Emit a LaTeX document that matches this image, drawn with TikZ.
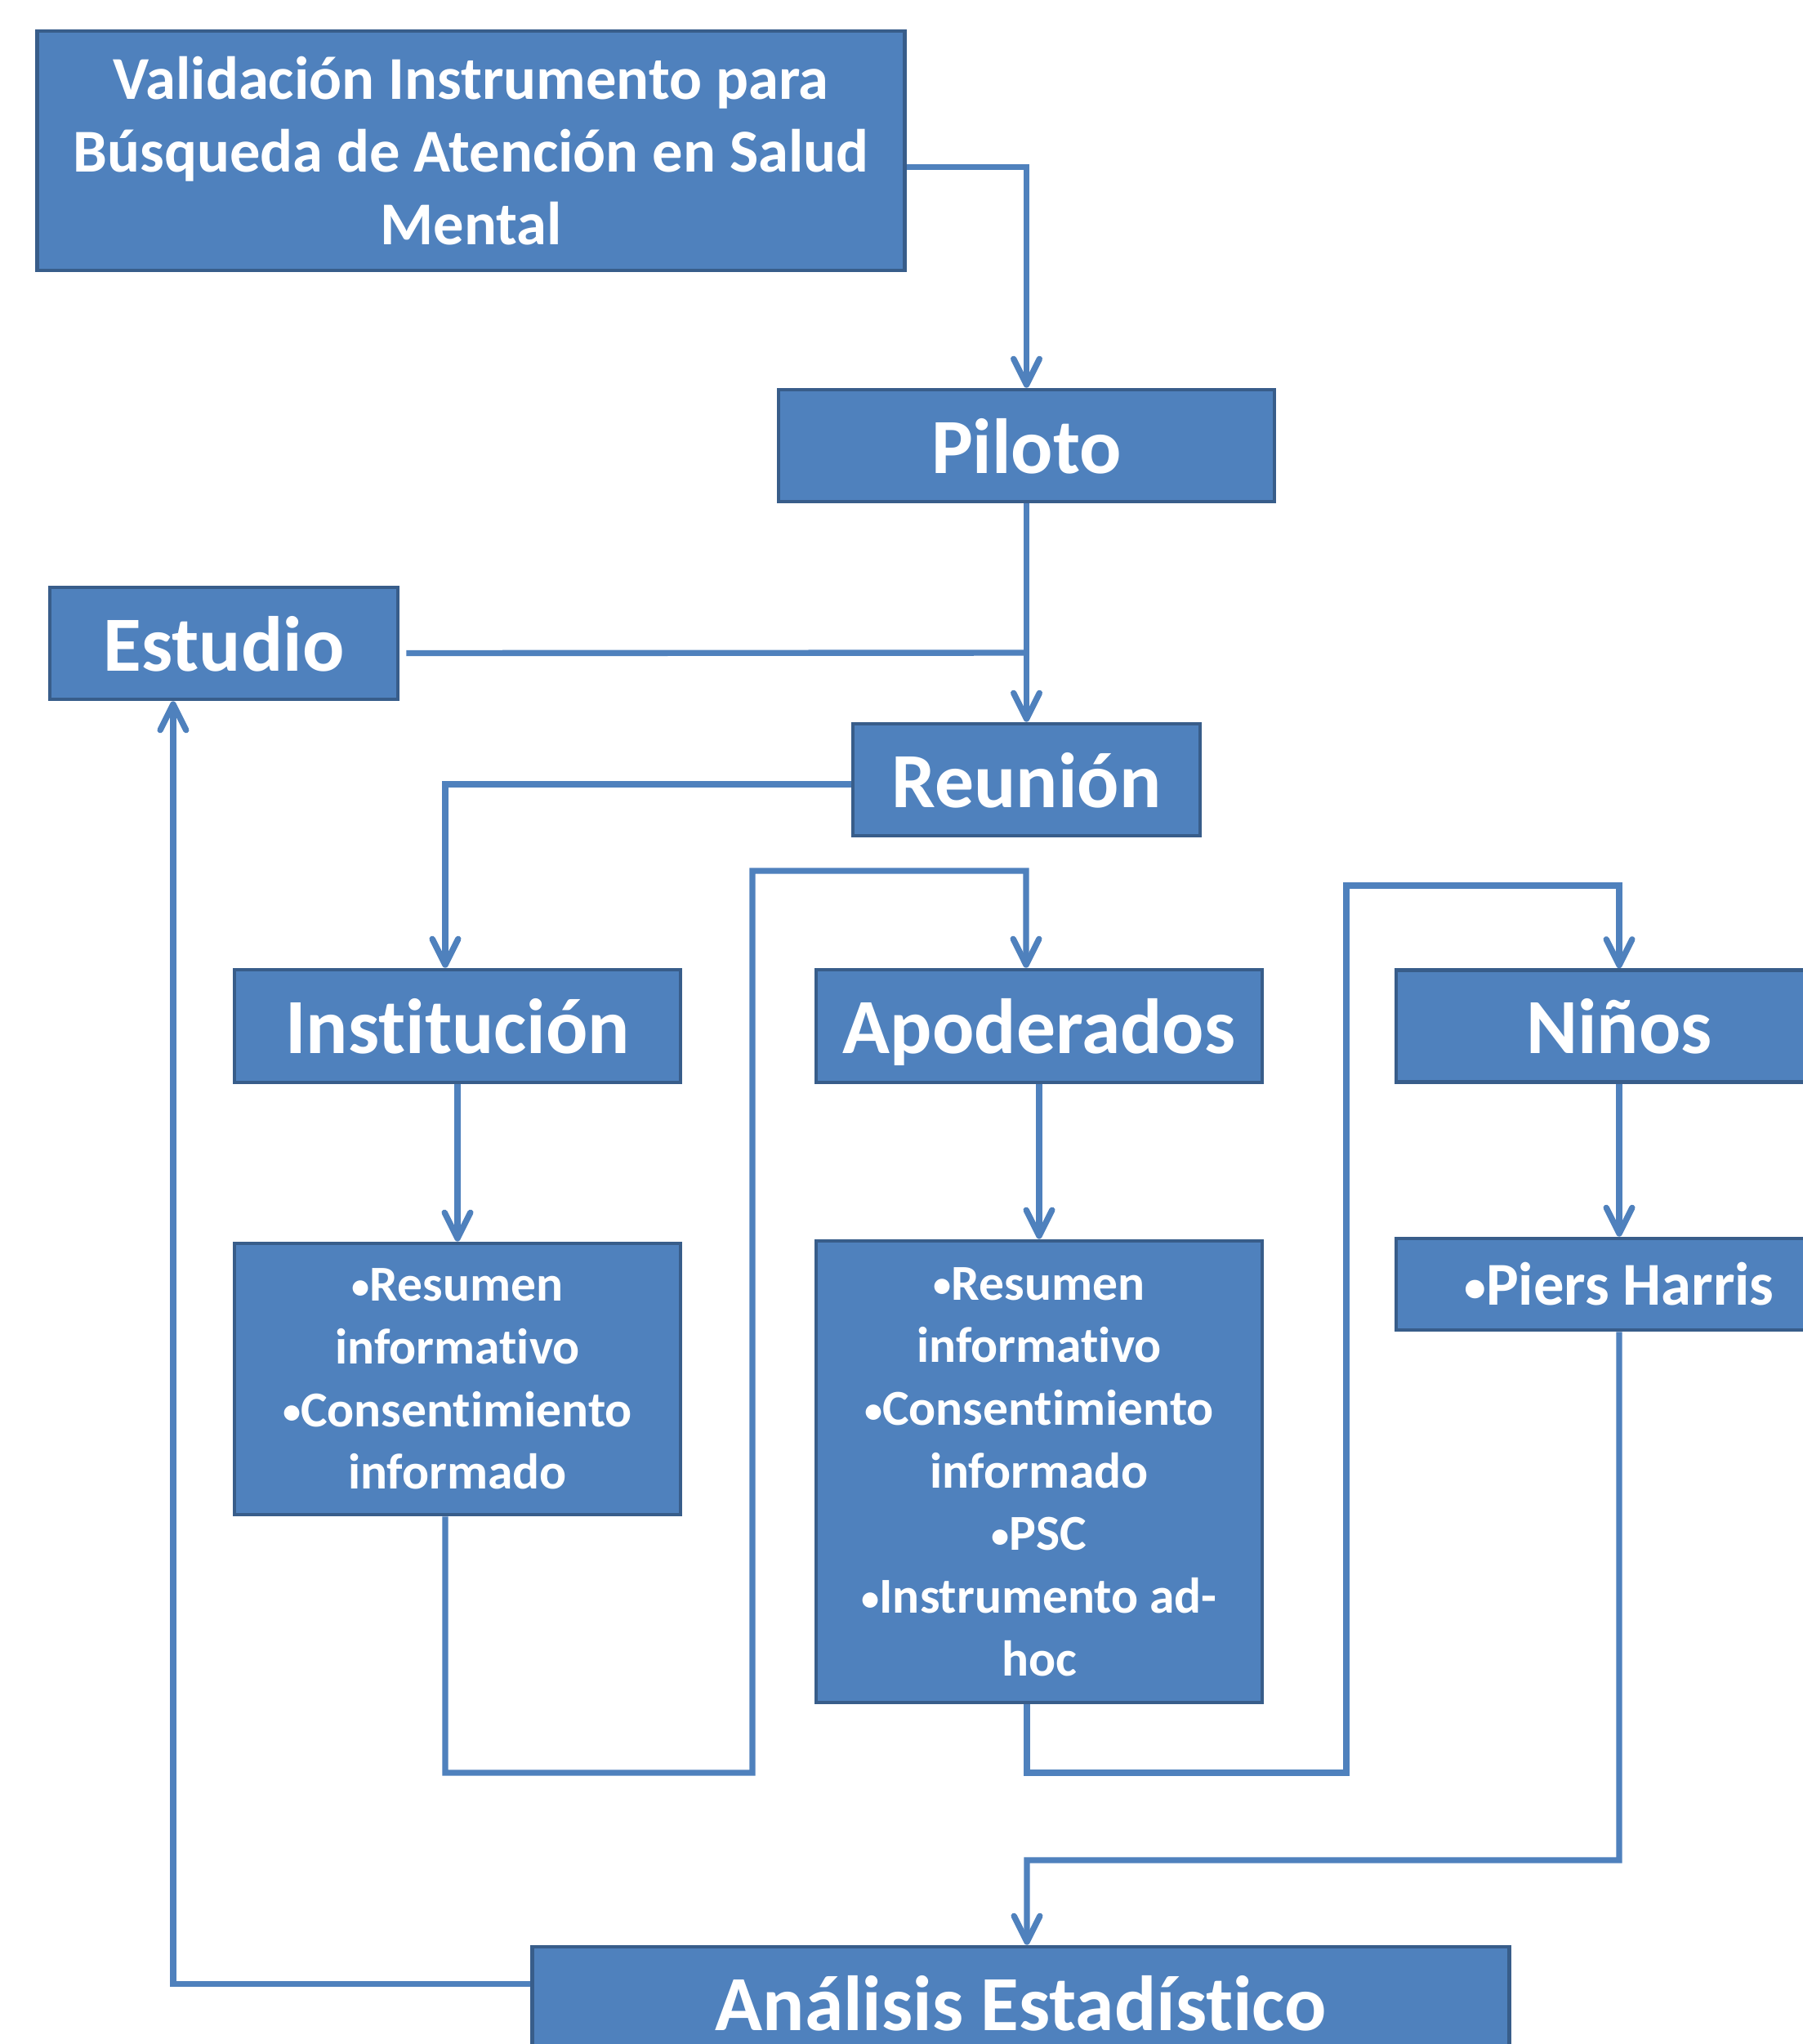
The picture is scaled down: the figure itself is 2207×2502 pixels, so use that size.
\documentclass[tikz,border=0pt]{standalone}
\usepackage{fontspec}
\setmainfont{Carlito}[Ligatures=NoCommon]
\usetikzlibrary{arrows.meta}
\definecolor{boxfill}{HTML}{4F81BD}
\definecolor{boxline}{HTML}{385D8A}
\definecolor{linecol}{HTML}{4F81BD}
\newcommand{\blt}{\raisebox{0.12ex}{\scalebox{0.72}{•}}}
\begin{document}
\begin{tikzpicture}[x=0.01cm,y=-0.01cm,
  box/.style={draw=boxline, line width=1.3pt, fill=boxfill, text=white, inner sep=0pt, align=center},
  bigtext/.style={font=\fontsize{27.2}{32}\selectfont\bfseries, text depth=0pt},
  listtext/.style={font=\fontsize{17.5}{21.8}\selectfont\bfseries},
  conn/.style={draw=linecol, line width=2.1pt},
  arr/.style={conn, -{Straight Barb[length=9pt,width=9pt,round]}},
]
\clip (0,0) rectangle (2207,2502);
\fill[white] (0,0) rectangle (2207,2502);

% nodes
\node[box, minimum width=10.61cm, minimum height=2.93cm, font=\fontsize{21.2}{25.3}\selectfont\bfseries] (title) at (576.5,184.5)
  {Validación Instrumento para\\Búsqueda de Atención en Salud\\Mental};
\node[box, bigtext, minimum width=6.07cm, minimum height=1.37cm] (piloto) at (1256.5,545.5) {Piloto};
\node[box, bigtext, minimum width=4.26cm, minimum height=1.37cm] (estudio) at (274,787.5) {Estudio};
\node[box, bigtext, minimum width=4.25cm, minimum height=1.37cm] (reunion) at (1256.5,954.5) {Reunión};
\node[box, bigtext, minimum width=5.46cm, minimum height=1.38cm] (inst) at (560,1256) {Institución};
\node[box, bigtext, minimum width=5.46cm, minimum height=1.38cm] (apod) at (1272,1256) {Apoderados};
\node[box, bigtext, minimum width=5.46cm, minimum height=1.37cm] (ninos) at (1982,1256) {Niños};
\node[box, listtext, minimum width=5.46cm, minimum height=3.32cm] (res1) at (560,1688)
  {\blt Resumen\\informativo\\\blt Consentimiento\\informado};
\node[box, listtext, minimum width=5.46cm, minimum height=5.65cm] (res2) at (1272,1801.5)
  {\blt Resumen\\informativo\\\blt Consentimiento\\informado\\\blt PSC\\\blt Instrumento ad-\\hoc};
\node[box, minimum width=5.46cm, minimum height=1.12cm, font=\fontsize{21.2}{25}\selectfont\bfseries] (piers) at (1982,1572) {\blt Piers Harris};
\node[box, bigtext, minimum width=11.95cm, minimum height=1.37cm] (anal) at (1249.5,2451.5) {Análisis Estadístico};

% junction coordinate
\coordinate (jn) at (1256,799);

% connectors
\draw[arr] ([yshift=-0.2cm]title.east) -| (piloto.north);
\draw[arr] (piloto.south) -- (reunion.north);
\draw[conn] ([xshift=0.08cm,yshift=-0.12cm]estudio.east) -- (jn);
\draw[arr] ([yshift=-0.055cm]reunion.west) -| ([xshift=-0.15cm]inst.north);
\draw[arr] (inst.south) -- (res1.north);
\draw[arr] ([xshift=-0.15cm]res1.south) |- (921,2170) |- (1256,1066) -- ([xshift=-0.16cm]apod.north);
\draw[arr] (apod.south) -- (res2.north);
\draw[arr] ([xshift=-0.15cm]res2.south) |- (1648,2170) |- (1982,1084) -- (ninos.north);
\draw[arr] (ninos.south) -- (piers.north);
\draw[arr] (piers.south) |- (1257,2277) -- ([xshift=0.075cm]anal.north);
\draw[arr] ([yshift=0.23cm]anal.west) -| ([xshift=-0.62cm]estudio.south);
\end{tikzpicture}
\end{document}
